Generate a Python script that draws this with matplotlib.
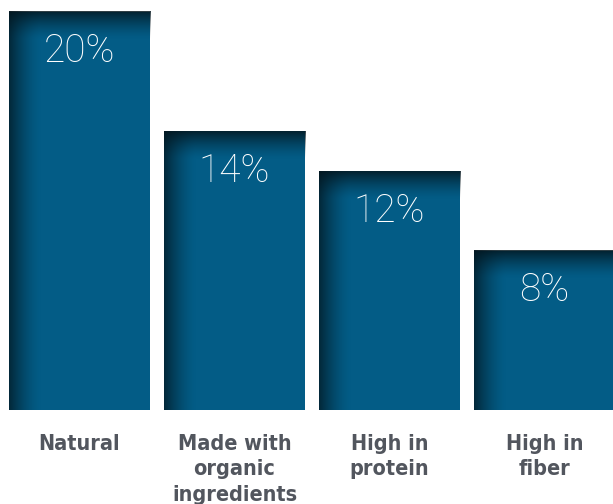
import numpy as np
import matplotlib
import matplotlib.pyplot as plt

matplotlib.use('Agg')

categories = ['Natural', 'Made with\norganic\ningredients', 'High in\nprotein', 'High in\nfiber']
values = [20, 14, 12, 8]
value_labels = ['20%', '14%', '12%', '8%']

bar_color = '#035c86'
shade_color = (0.01, 0.08, 0.11)
label_color = '#52565e'

fig = plt.figure(figsize=(6.13, 5.04), dpi=100)
ax = fig.add_axes([0, 0.1865, 1, 0.8135])

x = np.arange(len(values))
bars = ax.bar(x, values, width=0.91, color=bar_color, zorder=1)
ax.set_xlim(-0.513, 3.442)
ax.set_ylim(0, 20.6)

# soft dark shading along the left and top edges of each bar
for rect in bars:
    x0, w, h = rect.get_x(), rect.get_width(), rect.get_height()
    nx, ny = 141, int(round(h * 19.9))
    px = np.arange(nx)[None, :]
    py = np.arange(ny)[:, None]
    left = np.clip(1 - px / 32.0, 0, 1) ** 1.6 * 0.72
    top = np.clip(1 - py / 28.0, 0, 1) ** 1.5 * 0.82
    alpha = 1 - (1 - left) * (1 - top)
    img = np.zeros((ny, nx, 4))
    img[..., :3] = shade_color
    img[..., 3] = alpha
    ax.imshow(img, extent=(x0, x0 + w, 0, h), origin='upper',
              aspect='auto', interpolation='bilinear', zorder=2)

for xi, v, lab in zip(x, values, value_labels):
    ax.text(xi, v - 2.0, lab, ha='center', va='center', color='white',
            fontsize=28, family='Roboto', fontweight='light', zorder=3)

ax.set_xticks(x)
ax.set_xticklabels(categories, color=label_color, fontsize=15.5,
                   family='DejaVu Sans', fontstretch='condensed',
                   fontweight='bold', linespacing=1.35)
ax.tick_params(axis='x', length=0, pad=17)
ax.set_yticks([])
for s in ax.spines.values():
    s.set_visible(False)

fig.savefig('out.png', dpi=100)
